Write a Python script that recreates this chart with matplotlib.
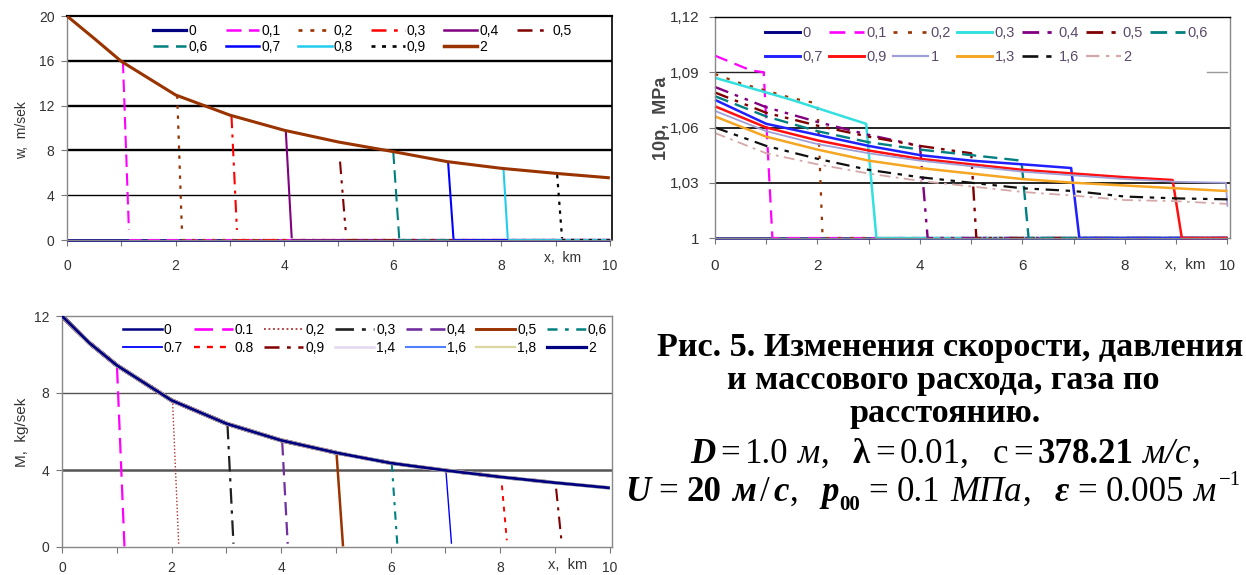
import matplotlib
matplotlib.use('Agg')
import matplotlib.pyplot as plt
from matplotlib.lines import Line2D
import numpy as np

plt.rcParams['font.family'] = ['Liberation Sans', 'DejaVu Sans']
SERIF = ['Liberation Serif', 'DejaVu Serif']

FIG_W, FIG_H = 1246, 575
fig = plt.figure(figsize=(FIG_W / 100, FIG_H / 100), dpi=100)

# ---------------- data: velocity w ----------------
W_X = [0, 0.5, 1, 2, 3, 4, 5, 6, 7, 8, 9, 10]
W_MAIN = [20, 18.0, 15.95, 12.95, 11.15, 9.8, 8.75, 7.9, 7.0, 6.4, 5.95, 5.55]
W_LABELS = ['0', '0,1', '0,2', '0,3', '0,4', '0,5', '0,6', '0,7', '0,8', '0,9', '2']
W_FRONT_LABELS = ['0,1', '0,2', '0,3', '0,4', '0,5', '0,6', '0,7', '0,8', '0,9']
W_FRONT_X_TOP = [1.03, 2.03, 3.03, 4.03, 5.03, 6.01, 7.02, 8.04, 9.03]
W_FRONT_Y_TOP = [16.0, 12.9, 11.1, 9.8, 7.0, 7.9, 7.0, 6.4, 5.8]
W_FRONT_X_BOT = [1.14, 2.12, 3.13, 4.14, 5.14, 6.12, 7.12, 8.12, 9.12]
W_FRONT_Y_BOT = [0.9, 0.45, 0.9, 0.15, 0.45, 0.15, 0.1, 0.1, 0.15]
W_YTICKS = [0, 4, 8, 12, 16, 20]
W_GRID = [4, 8, 12, 16]

# ---------------- data: pressure 10p ----------------
P_LABELS = ['0', '0,1', '0,2', '0,3', '0,4', '0,5', '0,6', '0,7', '0,9', '1', '1,3', '1,6', '2']
P_X = [
    [0, 10],
    [0, 0.7, 0.95, 1.12],
    [0, 0.5, 1, 1.5, 2.0, 2.1],
    [0, 0.5, 1, 1.5, 2, 2.5, 2.95, 3.15],
    [0, 1, 2, 3, 4.0, 4.15],
    [0, 1, 2, 3, 4, 5.0, 5.1],
    [0, 1, 2, 3, 4, 5, 5.98, 6.12],
    [0, 1, 2, 3, 4, 5, 6, 6.95, 7.11],
    [0, 1, 2, 3, 4, 5, 6, 7, 8, 8.93, 9.11],
    [0, 1, 2, 3, 4, 5, 6, 7, 8, 9, 9.97, 10.0],
    [0, 1, 2, 3, 4, 5, 6, 7, 8, 9, 10],
    [0, 1, 2, 3, 4, 5, 6, 7, 8, 9, 10],
    [0, 1, 2, 3, 4, 5, 6, 7, 8, 9, 10],
]
P_VAL = [
    [1.0, 1.0],
    [1.099, 1.091, 1.090, 1.0],
    [1.089, 1.084, 1.080, 1.076, 1.073, 1.0],
    [1.087, 1.083, 1.079, 1.075, 1.0705, 1.066, 1.062, 1.0],
    [1.082, 1.071, 1.063, 1.056, 1.050, 1.0],
    [1.079, 1.068, 1.061, 1.055, 1.050, 1.046, 1.0],
    [1.077, 1.066, 1.058, 1.052, 1.048, 1.045, 1.042, 1.0],
    [1.075, 1.062, 1.056, 1.050, 1.045, 1.042, 1.040, 1.038, 1.0],
    [1.0715, 1.060, 1.053, 1.0475, 1.043, 1.040, 1.037, 1.035, 1.033, 1.0315, 1.0],
    [1.069, 1.058, 1.051, 1.046, 1.042, 1.039, 1.036, 1.034, 1.032, 1.0305, 1.030, 1.017],
    [1.066, 1.055, 1.048, 1.042, 1.038, 1.035, 1.032, 1.030, 1.0285, 1.027, 1.0255],
    [1.060, 1.050, 1.043, 1.037, 1.033, 1.030, 1.027, 1.0255, 1.0225, 1.0215, 1.021],
    [1.057, 1.046, 1.040, 1.035, 1.031, 1.028, 1.025, 1.023, 1.0206, 1.020, 1.0185],
]
P_YTICKS = [1.0, 1.03, 1.06, 1.09, 1.12]
P_YTICKLABELS = ['1', '1,03', '1,06', '1,09', '1,12']

# ---------------- data: mass flow M ----------------
M_X = [0, 0.5, 1, 2, 3, 4, 5, 6, 7, 8, 9, 10]
M_MAIN = [12.0, 10.6, 9.44, 7.62, 6.41, 5.54, 4.9, 4.36, 3.98, 3.64, 3.34, 3.07]
M_LABELS = ['0', '0.1', '0,2', '0,3', '0,4', '0,5', '0,6',
            '0.7', '0.8', '0,9', '1,4', '1,6', '1,8', '2']
M_FRONT_LABELS = ['0.1', '0,2', '0,3', '0,4', '0,5', '0,6', '0.7', '0.8', '0,9']
M_FRONT_X_TOP = [1.005, 2.02, 3.02, 4.02, 5.01, 6.02, 7.01, 8.03, 9.02]
M_FRONT_Y_TOP = [9.3, 7.45, 6.4, 5.45, 4.93, 4.33, 3.9, 3.2, 3.03]
M_FRONT_X_BOT = [1.14, 2.13, 3.13, 4.12, 5.13, 6.12, 7.11, 8.12, 9.12]
M_FRONT_Y_BOT = [0.03, 0.17, 0.17, 0.17, 0.03, 0.17, 0.17, 0.35, 0.26]
M_FULL_LABELS = ['0', '1,4', '1,6', '1,8', '2']
M_YTICKS = [0, 4, 8, 12]
M_GRID = [4, 8]

X_MAJOR = [0, 2, 4, 6, 8, 10]
X_MINOR = [1, 3, 5, 7, 9]

CAPTION = ['Рис. 5. Изменения скорости, давления',
           'и массового расхода, газа по',
           'расстоянию.']

# ---------------- styles ----------------
W_STYLE = {
    '0':   dict(color='#000080', lw=2.0, dashes=None),
    '0,1': dict(color='#FF00FF', lw=1.5, dashes=(6, 3)),
    '0,2': dict(color='#993300', lw=1.6, dashes=(1.5, 3)),
    '0,3': dict(color='#FF0000', lw=1.5, dashes=(6, 3, 1.5, 3)),
    '0,4': dict(color='#800080', lw=1.5, dashes=None),
    '0,5': dict(color='#800000', lw=1.5, dashes=(6, 3, 1.5, 3, 1.5, 3)),
    '0,6': dict(color='#008080', lw=1.5, dashes=(6, 3)),
    '0,7': dict(color='#0000FF', lw=1.5, dashes=None),
    '0,8': dict(color='#22CCEE', lw=1.5, dashes=None),
    '0,9': dict(color='#000000', lw=1.6, dashes=(1.5, 2.5)),
    '2':   dict(color='#993300', lw=2.2, dashes=None),
}
P_STYLE = {
    '0':   dict(color='#000080', lw=1.8, dashes=None),
    '0,1': dict(color='#FF00FF', lw=1.6, dashes=(6, 3.5)),
    '0,2': dict(color='#993300', lw=1.6, dashes=(1.5, 4)),
    '0,3': dict(color='#33E0E0', lw=1.8, dashes=None),
    '0,4': dict(color='#800080', lw=1.7, dashes=(6, 3, 1.5, 3, 1.5, 3)),
    '0,5': dict(color='#800000', lw=1.7, dashes=(6, 3, 1.5, 3, 1.5, 3)),
    '0,6': dict(color='#008080', lw=1.7, dashes=(6, 3)),
    '0,7': dict(color='#2020FF', lw=1.8, dashes=None),
    '0,9': dict(color='#FF1010', lw=1.8, dashes=None),
    '1':   dict(color='#A0A0D8', lw=1.3, dashes=None),
    '1,3': dict(color='#F5A623', lw=1.8, dashes=None),
    '1,6': dict(color='#101010', lw=1.6, dashes=(6, 3, 2, 3, 2, 3)),
    '2':   dict(color='#D4A8A8', lw=1.3, dashes=(6, 3, 1.5, 3)),
}
M_STYLE = {
    '0':   dict(color='#000080', lw=1.5, dashes=None),
    '0.1': dict(color='#FF00FF', lw=1.6, dashes=(7, 3.5)),
    '0,2': dict(color='#B03030', lw=1.0, dashes=(1, 1.5)),
    '0,3': dict(color='#202020', lw=1.6, dashes=(7, 3, 1.5, 3)),
    '0,4': dict(color='#7030A0', lw=1.6, dashes=(6, 3)),
    '0,5': dict(color='#993300', lw=1.8, dashes=None),
    '0,6': dict(color='#008080', lw=1.5, dashes=(4, 3, 1.5, 3)),
    '0.7': dict(color='#0000FF', lw=1.0, dashes=None),
    '0.8': dict(color='#FF0000', lw=1.4, dashes=(2.5, 3)),
    '0,9': dict(color='#800000', lw=1.5, dashes=(6, 3, 1.5, 3)),
    '1,4': dict(color='#E6D8F0', lw=1.5, dashes=None),
    '1,6': dict(color='#5080FF', lw=1.2, dashes=None),
    '1,8': dict(color='#D8D8A0', lw=1.3, dashes=None),
    '2':   dict(color='#000080', lw=2.0, dashes=None),
}

TICK_COLOR = '#333333'


def add_axes_px(left, top, right, bottom):
    return fig.add_axes([left / FIG_W, 1 - bottom / FIG_H,
                         (right - left) / FIG_W, (bottom - top) / FIG_H])


def line(ax, x, y, st, **kw):
    ln, = ax.plot(x, y, color=st['color'], lw=st['lw'], solid_capstyle='butt', **kw)
    if st['dashes'] is not None:
        ln.set_dashes(st['dashes'])
    return ln


def handle(st):
    h = Line2D([], [], color=st['color'], lw=st['lw'] + 0.3)
    if st['dashes'] is not None:
        h.set_dashes(st['dashes'])
    return h


def rowwise(handles, labels, ncol):
    n = len(handles)
    nrows = int(np.ceil(n / ncol))
    order = [r * ncol + c for c in range(ncol) for r in range(nrows) if r * ncol + c < n]
    return [handles[i] for i in order], [labels[i] for i in order]


def fig_text_px(x, y, s, **kw):
    return fig.text(x / FIG_W, 1 - y / FIG_H, s, **kw)


def style_axes(ax, xpad, ypad, fs):
    ax.set_xlim(0, 10)
    ax.set_xticks(X_MAJOR)
    ax.set_xticks(X_MINOR, minor=True)
    ax.tick_params(axis='x', which='both', direction='out', length=4, width=0.8,
                   color='#777777', pad=xpad, labelsize=fs, labelcolor=TICK_COLOR)
    ax.tick_params(axis='y', which='both', direction='out', length=4, width=0.8,
                   color='#777777', pad=ypad, labelsize=fs, labelcolor=TICK_COLOR)
    for sp in ax.spines.values():
        sp.set_color('#888888')
        sp.set_linewidth(1.0)


# ================= top-left: w =================
axw = add_axes_px(67, 16, 612, 240)
style_axes(axw, 10, 5, 10)
axw.set_ylim(0, 20)
axw.set_yticks(W_YTICKS)
axw.set_xlim(0, 10.04)
axw.spines['top'].set_color('black')
axw.spines['top'].set_linewidth(1.6)
axw.spines['right'].set_color('black')
axw.spines['right'].set_linewidth(1.2)
for g in W_GRID:
    axw.axhline(g, color='black', lw=1.0 if g == 4 else 1.7, zorder=1)

line(axw, [0, 10], [0, 0], W_STYLE['0'], zorder=2, clip_on=False)
for lab, xt, yt, xb, yb in zip(W_FRONT_LABELS, W_FRONT_X_TOP, W_FRONT_Y_TOP,
                               W_FRONT_X_BOT, W_FRONT_Y_BOT):
    line(axw, [xt, xb], [yt, yb], W_STYLE[lab], zorder=2)
    line(axw, [xb, 10], [0, 0], W_STYLE[lab], zorder=2, clip_on=False)
line(axw, W_X, W_MAIN, W_STYLE['2'], zorder=3)

hs, ls = rowwise([handle(W_STYLE[l]) for l in W_LABELS], W_LABELS, 6)
fig.legend(hs, ls, loc='upper left', bbox_to_anchor=(153 / FIG_W, 1 - 24 / FIG_H),
           ncol=6, frameon=False, fontsize=10, borderpad=0, borderaxespad=0,
           handlelength=2.4, handletextpad=0.15, columnspacing=1.3, labelspacing=0.12)
fig_text_px(22, 130, 'w,  m/sek', rotation=90, ha='center', va='center',
            fontsize=10, color=TICK_COLOR)
fig_text_px(563, 258, 'x,  km', ha='center', va='center', fontsize=10, color=TICK_COLOR)

# ================= top-right: 10p =================
axp = add_axes_px(715, 17, 1230, 238)
style_axes(axp, 11, 7, 11)
axp.set_ylim(1.0, 1.12)
axp.set_yticks(P_YTICKS)
axp.set_yticklabels(P_YTICKLABELS)
axp.set_xlim(0, 10.05)
axp.spines['top'].set_color('black')
for g in [1.03, 1.06]:
    axp.axhline(g, color='black', lw=1.2, zorder=1)
axp.plot([0, 0.95], [1.09, 1.09], color='#222222', lw=1.0, zorder=1)
axp.plot([9.6, 10.0], [1.09, 1.09], color='#999999', lw=1.0, zorder=1)

for lab, xs, ps in zip(P_LABELS, P_X, P_VAL):
    xs = list(xs)
    ps = list(ps)
    if xs[-1] < 10 and ps[-1] == 1.0:
        xs.append(10)
        ps.append(1.0)
    line(axp, xs, ps, P_STYLE[lab], zorder=2, clip_on=False)

hs, ls = rowwise([handle(P_STYLE[l]) for l in P_LABELS], P_LABELS, 7)
fig.legend(hs, ls, loc='upper left', bbox_to_anchor=(765 / FIG_W, 1 - 26 / FIG_H),
           ncol=7, frameon=False, fontsize=10.5, borderpad=0, borderaxespad=0,
           handlelength=2.4, handletextpad=0.15, columnspacing=0.45, labelspacing=0.7,
           labelcolor='#5a4a66')
fig_text_px(662, 118, '10p,  MPa', rotation=90, ha='center', va='center',
            fontsize=13, fontweight='bold', color='#444444')
fig_text_px(1185, 265, 'x,  km', ha='center', va='center', fontsize=11, color=TICK_COLOR)

# ================= bottom-left: M =================
axm = add_axes_px(62, 316, 612, 547)
style_axes(axm, 6, 5, 10)
axm.set_ylim(0, 12)
axm.set_yticks(M_YTICKS)
axm.set_xlim(0, 10.04)
for g in M_GRID:
    axm.axhline(g, color='#555555', lw=1.8 if g == 4 else 1.0, zorder=1)

for lab, xt, yt, xb, yb in zip(M_FRONT_LABELS, M_FRONT_X_TOP, M_FRONT_Y_TOP,
                               M_FRONT_X_BOT, M_FRONT_Y_BOT):
    st = M_STYLE[lab]
    pre_x = [x for x in M_X if x < xt]
    pre_y = M_MAIN[:len(pre_x)]
    pre = dict(st, lw=st['lw'] + 1.2)
    line(axm, pre_x, pre_y, pre, zorder=2)
    line(axm, [xt, xb], [yt, yb], st, zorder=2)
for lab in M_FULL_LABELS:
    st = M_STYLE[lab]
    if lab in ('1,4', '1,6', '1,8'):
        st = dict(st, lw=st['lw'] + 1.2)
    line(axm, M_X, M_MAIN, st, zorder=3 if lab == '2' else 2.5)

hs, ls = rowwise([handle(M_STYLE[l]) for l in M_LABELS], M_LABELS, 7)
fig.legend(hs, ls, loc='upper left', bbox_to_anchor=(123 / FIG_W, 1 - 323 / FIG_H),
           ncol=7, frameon=False, fontsize=10, borderpad=0, borderaxespad=0,
           handlelength=2.8, handletextpad=0.15, columnspacing=0.75, labelspacing=0.3)
fig_text_px(22, 432, 'M,  kg/sek', rotation=90, ha='center', va='center',
            fontsize=11, color=TICK_COLOR)
fig_text_px(568, 565, 'x,  km', ha='center', va='center', fontsize=10.5, color=TICK_COLOR)

# ================= caption =================
renderer = fig.canvas.get_renderer()
probe = fig.text(0, 0, CAPTION[0], fontsize=20, fontweight='bold', family=SERIF)
cap_size = 20 * 588 / probe.get_window_extent(renderer).width
probe.remove()

fig_text_px(950, 356, CAPTION[0], ha='center', va='baseline', fontsize=cap_size,
            fontweight='bold', family=SERIF)
fig_text_px(943, 389, CAPTION[1], ha='center', va='baseline', fontsize=cap_size,
            fontweight='bold', family=SERIF)
fig_text_px(945, 422, CAPTION[2], ha='center', va='baseline', fontsize=cap_size,
            fontweight='bold', family=SERIF)


def rich_line(pieces, left, base_y, size, target_w):
    """Lay out styled pieces left to right; gaps are stretched to reach target_w."""
    px = size * 100 / 72
    made = []
    glyph_w = 0.0
    gap_sum = 0.0
    for txt, weight, style, gap, scale, dy in pieces:
        t = fig.text(0, 0, txt, fontsize=size * scale, fontweight=weight,
                     fontstyle=style, family=SERIF, va='baseline', ha='left')
        w = t.get_window_extent(renderer).width
        made.append((t, w, gap, dy))
        glyph_w += w
        gap_sum += gap
    k = max((target_w - glyph_w) / gap_sum, 0) if gap_sum > 0 else 0
    x = left
    for t, w, gap, dy in made:
        x += gap * k
        t.set_position((x / FIG_W, 1 - (base_y - dy * px) / FIG_H))
        x += w


N, B = 'normal', 'bold'
R, I = 'normal', 'italic'
line4 = [('D', B, I, 0, 1, 0), ('=', N, R, 0.12, 1, 0), ('1.0', N, R, 0.12, 1, 0),
         ('м', N, I, 0.22, 1, 0), (',', N, R, 0.02, 1, 0),
         ('λ', B, R, 0.55, 1, 0), ('=', N, R, 0.12, 1, 0), ('0.01,', N, R, 0.12, 1, 0),
         ('с', N, R, 0.55, 1, 0), ('=', N, R, 0.12, 1, 0), ('378.21', B, R, 0.12, 1, 0),
         ('м/с', N, I, 0.22, 1, 0), (',', N, R, 0.02, 1, 0)]
line5 = [('U', B, I, 0, 1, 0), ('=', N, R, 0.18, 1, 0), ('20', B, R, 0.18, 1, 0),
         ('м', B, I, 0.22, 1, 0), ('/', N, R, 0.08, 1, 0), ('с', B, I, 0.08, 1, 0),
         (',', N, R, 0.02, 1, 0),
         ('p', B, I, 0.5, 1, 0), ('00', B, R, 0.0, 0.6, -0.25), ('=', N, R, 0.18, 1, 0),
         ('0.1', N, R, 0.18, 1, 0), ('МПа', N, I, 0.22, 1, 0), (',', N, R, 0.02, 1, 0),
         ('ε', B, I, 0.5, 1, 0), ('=', N, R, 0.18, 1, 0), ('0.005', N, R, 0.18, 1, 0),
         ('м', N, I, 0.22, 1, 0), ('−1', N, R, 0.05, 0.6, 0.45)]
rich_line(line4, 690, 463, cap_size * 1.02, 510)
rich_line(line5, 625, 501, cap_size * 1.02, 616)

fig.savefig('out.png', dpi=100)
